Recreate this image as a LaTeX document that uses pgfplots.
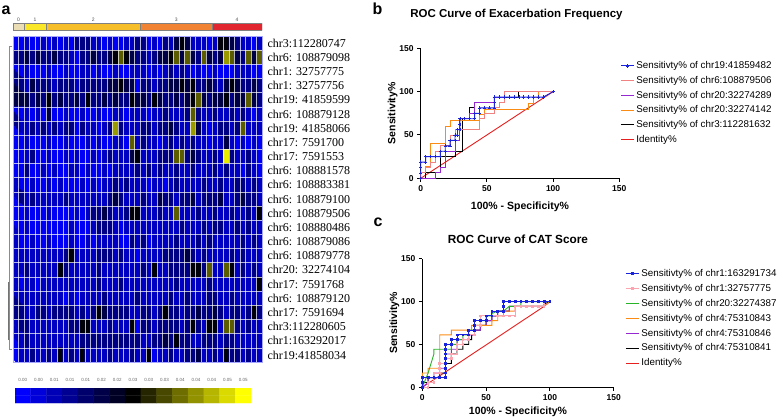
\documentclass[border=0pt]{standalone}
\usepackage{pgfplots}
\pgfplotsset{compat=1.18}
\usepackage{fontspec}
\setmainfont{Liberation Sans}
\newfontfamily\serifrm{Liberation Serif}
\definecolor{g0}{RGB}{236,222,180}
\definecolor{g1}{RGB}{250,232,40}
\definecolor{g2}{RGB}{246,190,40}
\definecolor{g3}{RGB}{240,132,52}
\definecolor{g4}{RGB}{226,38,48}
\definecolor{rocblue}{RGB}{25,35,220}
\definecolor{rocpink}{RGB}{240,130,130}
\definecolor{rocpinkc}{RGB}{250,165,175}
\definecolor{rocpurple}{RGB}{150,40,210}
\definecolor{rocorange}{RGB}{250,140,20}
\definecolor{rocgreen}{RGB}{40,180,40}
\definecolor{rocred}{RGB}{230,30,30}
\pgfplotsset{
  heatcm/.style={colormap={bky}{rgb255=(0,0,255) rgb255=(0,0,0) rgb255=(255,255,0)}, point meta min=0, point meta max=0.05},
  rocax/.style={scale only axis, xmin=0, xmax=150, ymin=0, ymax=150,
    axis x line*=bottom, axis y line*=left,
    axis line style={line width=1.1pt, black},
    xtick={0,50,100,150}, ytick={0,50,100,150},
    tick align=outside, major tick length=3.5pt,
    every tick/.style={black, line width=1pt},
    /pgf/number format/assume math mode=true,
    tick label style={font=\bfseries\fontsize{8.5}{10}\selectfont},
    xlabel={100\% - Specificity\%}, ylabel={Sensitivity\%},
    label style={font=\bfseries\fontsize{10.5}{12}\selectfont},
    ylabel shift=-5pt,
    clip=false, reverse legend,
    legend cell align=left,
    legend style={draw=none, fill=none, font=\fontsize{9.8}{11}\selectfont, anchor=north west},
    legend image code/.code={\draw[mark repeat=2,mark phase=2,##1] plot coordinates {(0pt,0pt) (6.5pt,0pt) (13pt,0pt)};},
  },
}
\begin{document}
\begin{tikzpicture}
\path[use as bounding box] (0pt,0pt) rectangle (778pt,-418pt);
% panel letters and titles
\node[font=\bfseries\fontsize{16}{16}\selectfont] at (6pt,-10pt) {a};
\node[font=\bfseries\fontsize{16}{16}\selectfont] at (377.5pt,-9pt) {b};
\node[font=\bfseries\fontsize{16}{16}\selectfont] at (378pt,-222pt) {c};
\node[font=\bfseries\fontsize{11.5}{13}\selectfont] at (516.5pt,-15pt) {ROC Curve of Exacerbation Frequency};
\node[font=\bfseries\fontsize{11.8}{13}\selectfont] at (518pt,-239pt) {ROC Curve of CAT Score};

% group bar
\begin{axis}[at={(13pt,-30pt)}, anchor=south west, scale only axis, width=249pt, height=6.7pt,
  xmin=-0.5, xmax=44.5, ymin=0, ymax=1, axis line style={draw=none},
  ytick=\empty, xtick={0.5,3.5,14,29,40}, xticklabels={0,1,2,3,4}, xticklabel pos=upper,
  major tick length=0pt, xticklabel style={font=\fontsize{5}{5}\selectfont, text=black!70, yshift=-2pt}]
\addplot[fill=g0, draw=black!50, line width=0.4pt, mark=none] coordinates {(-0.5,0) (1.5,0) (1.5,1) (-0.5,1) (-0.5,0)};
\addplot[fill=g1, draw=black!50, line width=0.4pt, mark=none] coordinates {(1.5,0) (5.5,0) (5.5,1) (1.5,1) (1.5,0)};
\addplot[fill=g2, draw=black!50, line width=0.4pt, mark=none] coordinates {(5.5,0) (22.5,0) (22.5,1) (5.5,1) (5.5,0)};
\addplot[fill=g3, draw=black!50, line width=0.4pt, mark=none] coordinates {(22.5,0) (35.5,0) (35.5,1) (22.5,1) (22.5,0)};
\addplot[fill=g4, draw=black!50, line width=0.4pt, mark=none] coordinates {(35.5,0) (44.5,0) (44.5,1) (35.5,1) (35.5,0)};
\end{axis}

% heatmap
\begin{axis}[heatcm, at={(13pt,-362pt)}, anchor=south west, scale only axis, width=249pt, height=326pt,
  xmin=-0.5, xmax=44.5, ymin=-0.5, ymax=22.5, y dir=reverse, axis on top, clip=true,
  xtick={0.5,1.5,...,43.5}, xticklabels={}, ytick={0,...,22},
  yticklabels={chr3:112280747, chr6: 108879098, chr1: 32757775, chr1: 32757756, chr19: 41859599, chr6: 108879128, chr19: 41858066, chr17: 7591700, chr17: 7591553, chr6: 108881578, chr6: 108883381, chr6: 108879100, chr6: 108879506, chr6: 108880486, chr6: 108879086, chr6: 108879778, chr20: 32274104, chr17: 7591768, chr6: 108879120, chr17: 7591694, chr3:112280605, chr1:163292017, chr19:41858034},
  yticklabel pos=right, yticklabel style={font=\serifrm\fontsize{12}{12}\selectfont, anchor=west, xshift=2pt},
  major tick length=0pt, minor tick length=0pt,
  minor ytick={0.5,1.5,...,21.5},
  xmajorgrids=true, yminorgrids=true, ymajorgrids=false,
  major grid style={white, line width=0.6pt, opacity=0.7},
  minor grid style={white, line width=0.6pt, opacity=0.7},
  axis line style={draw=white!65!blue, line width=0.6pt}]
\addplot[matrix plot*, mesh/cols=45, mesh/rows=23, point meta=explicit, skip coords between index={1035}{2000}] table[row sep=\\, header=false, x expr={mod(\coordindex,45)}, y expr={floor(\coordindex/45)}, meta index=0] {
0.001\\ 0.001\\ 0.006\\ 0.001\\ 0.001\\ 0.006\\ 0.001\\ 0.006\\ 0.001\\ 0.006\\ 0.001\\ 0.012\\ 0.012\\ 0.012\\ 0.006\\ 0.006\\ 0.001\\ 0.006\\ 0.001\\ 0.001\\ 0.006\\ 0.006\\ 0.012\\ 0.012\\ 0.001\\ 0.006\\ 0.001\\ 0.012\\ 0.006\\ 0.018\\ 0.024\\ 0.018\\ 0.006\\ 0.006\\ 0.006\\ 0.001\\ 0.006\\ 0.024\\ 0.024\\ 0.018\\ 0.012\\ 0.006\\ 0.006\\ 0.001\\ 0.006\\
0.012\\ 0.012\\ 0.018\\ 0.012\\ 0.018\\ 0.012\\ 0.012\\ 0.018\\ 0.012\\ 0.012\\ 0.006\\ 0.001\\ 0.012\\ 0.012\\ 0.018\\ 0.012\\ 0.012\\ 0.018\\ 0.024\\ 0.034\\ 0.024\\ 0.018\\ 0.012\\ 0.012\\ 0.006\\ 0.012\\ 0.018\\ 0.018\\ 0.024\\ 0.034\\ 0.018\\ 0.034\\ 0.018\\ 0.012\\ 0.034\\ 0.018\\ 0.012\\ 0.018\\ 0.040\\ 0.034\\ 0.018\\ 0.012\\ 0.034\\ 0.018\\ 0.034\\
0.001\\ 0.001\\ 0.006\\ 0.001\\ 0.001\\ 0.001\\ 0.006\\ 0.001\\ 0.001\\ 0.006\\ 0.001\\ 0.001\\ 0.006\\ 0.006\\ 0.001\\ 0.006\\ 0.001\\ 0.001\\ 0.006\\ 0.001\\ 0.001\\ 0.006\\ 0.006\\ 0.006\\ 0.001\\ 0.006\\ 0.001\\ 0.006\\ 0.012\\ 0.006\\ 0.012\\ 0.006\\ 0.001\\ 0.006\\ 0.001\\ 0.001\\ 0.006\\ 0.001\\ 0.001\\ 0.001\\ 0.006\\ 0.006\\ 0.006\\ 0.001\\ 0.001\\
0.012\\ 0.012\\ 0.006\\ 0.018\\ 0.012\\ 0.012\\ 0.012\\ 0.006\\ 0.012\\ 0.012\\ 0.012\\ 0.006\\ 0.012\\ 0.012\\ 0.012\\ 0.012\\ 0.012\\ 0.018\\ 0.018\\ 0.024\\ 0.018\\ 0.018\\ 0.001\\ 0.012\\ 0.012\\ 0.006\\ 0.012\\ 0.012\\ 0.018\\ 0.018\\ 0.024\\ 0.018\\ 0.024\\ 0.012\\ 0.012\\ 0.018\\ 0.012\\ 0.006\\ 0.018\\ 0.024\\ 0.018\\ 0.012\\ 0.012\\ 0.018\\ 0.012\\
0.018\\ 0.018\\ 0.018\\ 0.012\\ 0.018\\ 0.012\\ 0.024\\ 0.012\\ 0.018\\ 0.012\\ 0.012\\ 0.018\\ 0.012\\ 0.024\\ 0.012\\ 0.012\\ 0.018\\ 0.012\\ 0.018\\ 0.012\\ 0.012\\ 0.024\\ 0.018\\ 0.018\\ 0.012\\ 0.024\\ 0.018\\ 0.012\\ 0.012\\ 0.018\\ 0.012\\ 0.018\\ 0.024\\ 0.034\\ 0.018\\ 0.012\\ 0.018\\ 0.018\\ 0.024\\ 0.012\\ 0.018\\ 0.018\\ 0.034\\ 0.018\\ 0.012\\
0.001\\ 0.001\\ 0.006\\ 0.001\\ 0.006\\ 0.001\\ 0.018\\ 0.001\\ 0.001\\ 0.006\\ 0.001\\ 0.001\\ 0.006\\ 0.001\\ 0.001\\ 0.006\\ 0.001\\ 0.001\\ 0.006\\ 0.006\\ 0.001\\ 0.006\\ 0.006\\ 0.006\\ 0.001\\ 0.006\\ 0.006\\ 0.012\\ 0.006\\ 0.006\\ 0.006\\ 0.012\\ 0.034\\ 0.012\\ 0.006\\ 0.006\\ 0.012\\ 0.006\\ 0.006\\ 0.012\\ 0.006\\ 0.012\\ 0.006\\ 0.001\\ 0.006\\
0.012\\ 0.006\\ 0.006\\ 0.012\\ 0.006\\ 0.012\\ 0.006\\ 0.012\\ 0.006\\ 0.012\\ 0.012\\ 0.001\\ 0.012\\ 0.006\\ 0.006\\ 0.001\\ 0.006\\ 0.012\\ 0.040\\ 0.012\\ 0.006\\ 0.006\\ 0.006\\ 0.012\\ 0.012\\ 0.006\\ 0.012\\ 0.012\\ 0.018\\ 0.012\\ 0.006\\ 0.006\\ 0.040\\ 0.018\\ 0.006\\ 0.001\\ 0.006\\ 0.012\\ 0.012\\ 0.006\\ 0.012\\ 0.034\\ 0.006\\ 0.006\\ 0.006\\
0.001\\ 0.001\\ 0.006\\ 0.001\\ 0.001\\ 0.001\\ 0.006\\ 0.001\\ 0.001\\ 0.006\\ 0.001\\ 0.001\\ 0.001\\ 0.006\\ 0.001\\ 0.006\\ 0.001\\ 0.001\\ 0.006\\ 0.006\\ 0.001\\ 0.034\\ 0.006\\ 0.012\\ 0.006\\ 0.006\\ 0.001\\ 0.006\\ 0.012\\ 0.006\\ 0.012\\ 0.006\\ 0.012\\ 0.006\\ 0.006\\ 0.001\\ 0.006\\ 0.006\\ 0.018\\ 0.006\\ 0.001\\ 0.006\\ 0.001\\ 0.006\\ 0.001\\
0.001\\ 0.001\\ 0.006\\ 0.012\\ 0.001\\ 0.001\\ 0.006\\ 0.001\\ 0.001\\ 0.006\\ 0.001\\ 0.006\\ 0.001\\ 0.001\\ 0.006\\ 0.001\\ 0.006\\ 0.012\\ 0.006\\ 0.006\\ 0.006\\ 0.018\\ 0.024\\ 0.006\\ 0.006\\ 0.006\\ 0.012\\ 0.012\\ 0.012\\ 0.034\\ 0.034\\ 0.012\\ 0.018\\ 0.012\\ 0.006\\ 0.006\\ 0.012\\ 0.006\\ 0.048\\ 0.012\\ 0.006\\ 0.006\\ 0.012\\ 0.006\\ 0.001\\
0.001\\ 0.001\\ 0.012\\ 0.001\\ 0.001\\ 0.006\\ 0.001\\ 0.006\\ 0.001\\ 0.001\\ 0.006\\ 0.006\\ 0.001\\ 0.006\\ 0.001\\ 0.001\\ 0.006\\ 0.001\\ 0.006\\ 0.006\\ 0.006\\ 0.006\\ 0.012\\ 0.006\\ 0.012\\ 0.006\\ 0.012\\ 0.006\\ 0.006\\ 0.012\\ 0.006\\ 0.006\\ 0.012\\ 0.006\\ 0.006\\ 0.006\\ 0.012\\ 0.006\\ 0.012\\ 0.006\\ 0.006\\ 0.001\\ 0.012\\ 0.006\\ 0.001\\
0.006\\ 0.001\\ 0.001\\ 0.006\\ 0.001\\ 0.001\\ 0.006\\ 0.001\\ 0.006\\ 0.001\\ 0.001\\ 0.001\\ 0.006\\ 0.001\\ 0.006\\ 0.001\\ 0.006\\ 0.006\\ 0.012\\ 0.006\\ 0.012\\ 0.006\\ 0.006\\ 0.006\\ 0.001\\ 0.006\\ 0.006\\ 0.001\\ 0.006\\ 0.012\\ 0.006\\ 0.006\\ 0.006\\ 0.006\\ 0.012\\ 0.006\\ 0.006\\ 0.012\\ 0.006\\ 0.006\\ 0.012\\ 0.012\\ 0.006\\ 0.012\\ 0.006\\
0.006\\ 0.012\\ 0.006\\ 0.012\\ 0.006\\ 0.006\\ 0.006\\ 0.006\\ 0.006\\ 0.012\\ 0.006\\ 0.006\\ 0.006\\ 0.006\\ 0.006\\ 0.006\\ 0.006\\ 0.012\\ 0.018\\ 0.012\\ 0.006\\ 0.006\\ 0.006\\ 0.012\\ 0.006\\ 0.006\\ 0.018\\ 0.012\\ 0.012\\ 0.006\\ 0.012\\ 0.012\\ 0.018\\ 0.006\\ 0.012\\ 0.012\\ 0.012\\ 0.018\\ 0.006\\ 0.006\\ 0.012\\ 0.018\\ 0.012\\ 0.012\\ 0.006\\
0.001\\ 0.001\\ 0.006\\ 0.001\\ 0.001\\ 0.001\\ 0.006\\ 0.001\\ 0.001\\ 0.001\\ 0.001\\ 0.006\\ 0.001\\ 0.006\\ 0.012\\ 0.012\\ 0.018\\ 0.012\\ 0.006\\ 0.006\\ 0.012\\ 0.024\\ 0.024\\ 0.006\\ 0.006\\ 0.006\\ 0.012\\ 0.006\\ 0.006\\ 0.034\\ 0.006\\ 0.006\\ 0.006\\ 0.012\\ 0.006\\ 0.006\\ 0.012\\ 0.006\\ 0.006\\ 0.012\\ 0.006\\ 0.006\\ 0.012\\ 0.006\\ 0.024\\
0.001\\ 0.001\\ 0.006\\ 0.001\\ 0.001\\ 0.001\\ 0.001\\ 0.001\\ 0.001\\ 0.001\\ 0.006\\ 0.001\\ 0.001\\ 0.001\\ 0.006\\ 0.012\\ 0.012\\ 0.012\\ 0.006\\ 0.001\\ 0.006\\ 0.006\\ 0.006\\ 0.006\\ 0.006\\ 0.006\\ 0.006\\ 0.006\\ 0.006\\ 0.006\\ 0.012\\ 0.006\\ 0.006\\ 0.006\\ 0.012\\ 0.006\\ 0.012\\ 0.012\\ 0.006\\ 0.006\\ 0.012\\ 0.006\\ 0.012\\ 0.006\\ 0.006\\
0.006\\ 0.001\\ 0.001\\ 0.006\\ 0.001\\ 0.001\\ 0.006\\ 0.001\\ 0.001\\ 0.001\\ 0.006\\ 0.001\\ 0.001\\ 0.006\\ 0.001\\ 0.006\\ 0.006\\ 0.006\\ 0.006\\ 0.001\\ 0.001\\ 0.012\\ 0.006\\ 0.012\\ 0.001\\ 0.006\\ 0.006\\ 0.006\\ 0.006\\ 0.012\\ 0.006\\ 0.006\\ 0.006\\ 0.012\\ 0.006\\ 0.012\\ 0.006\\ 0.006\\ 0.006\\ 0.006\\ 0.006\\ 0.012\\ 0.006\\ 0.012\\ 0.006\\
0.006\\ 0.006\\ 0.006\\ 0.006\\ 0.006\\ 0.006\\ 0.006\\ 0.006\\ 0.006\\ 0.012\\ 0.024\\ 0.006\\ 0.006\\ 0.006\\ 0.006\\ 0.012\\ 0.012\\ 0.012\\ 0.006\\ 0.012\\ 0.006\\ 0.006\\ 0.001\\ 0.006\\ 0.006\\ 0.006\\ 0.006\\ 0.012\\ 0.012\\ 0.012\\ 0.012\\ 0.018\\ 0.012\\ 0.006\\ 0.012\\ 0.006\\ 0.006\\ 0.006\\ 0.006\\ 0.012\\ 0.006\\ 0.012\\ 0.006\\ 0.006\\ 0.006\\
0.006\\ 0.006\\ 0.012\\ 0.006\\ 0.006\\ 0.006\\ 0.006\\ 0.006\\ 0.024\\ 0.012\\ 0.006\\ 0.006\\ 0.006\\ 0.006\\ 0.006\\ 0.012\\ 0.006\\ 0.006\\ 0.006\\ 0.006\\ 0.006\\ 0.006\\ 0.006\\ 0.012\\ 0.006\\ 0.024\\ 0.006\\ 0.006\\ 0.012\\ 0.012\\ 0.012\\ 0.012\\ 0.024\\ 0.024\\ 0.012\\ 0.034\\ 0.006\\ 0.006\\ 0.034\\ 0.024\\ 0.006\\ 0.012\\ 0.006\\ 0.012\\ 0.006\\
0.006\\ 0.001\\ 0.006\\ 0.006\\ 0.001\\ 0.006\\ 0.006\\ 0.006\\ 0.006\\ 0.006\\ 0.006\\ 0.006\\ 0.006\\ 0.006\\ 0.006\\ 0.012\\ 0.006\\ 0.006\\ 0.006\\ 0.012\\ 0.006\\ 0.006\\ 0.006\\ 0.006\\ 0.006\\ 0.006\\ 0.006\\ 0.006\\ 0.006\\ 0.012\\ 0.006\\ 0.006\\ 0.006\\ 0.006\\ 0.006\\ 0.012\\ 0.006\\ 0.006\\ 0.006\\ 0.006\\ 0.006\\ 0.006\\ 0.006\\ 0.006\\ 0.024\\
0.006\\ 0.006\\ 0.006\\ 0.006\\ 0.006\\ 0.006\\ 0.006\\ 0.006\\ 0.006\\ 0.001\\ 0.006\\ 0.001\\ 0.006\\ 0.006\\ 0.006\\ 0.006\\ 0.012\\ 0.006\\ 0.006\\ 0.006\\ 0.006\\ 0.006\\ 0.012\\ 0.006\\ 0.006\\ 0.006\\ 0.006\\ 0.006\\ 0.012\\ 0.006\\ 0.006\\ 0.012\\ 0.006\\ 0.006\\ 0.006\\ 0.012\\ 0.012\\ 0.006\\ 0.006\\ 0.012\\ 0.006\\ 0.006\\ 0.006\\ 0.006\\ 0.006\\
0.012\\ 0.012\\ 0.006\\ 0.006\\ 0.012\\ 0.012\\ 0.006\\ 0.012\\ 0.012\\ 0.012\\ 0.012\\ 0.006\\ 0.012\\ 0.006\\ 0.012\\ 0.024\\ 0.018\\ 0.012\\ 0.012\\ 0.012\\ 0.012\\ 0.006\\ 0.006\\ 0.012\\ 0.012\\ 0.006\\ 0.012\\ 0.024\\ 0.012\\ 0.012\\ 0.006\\ 0.012\\ 0.012\\ 0.018\\ 0.012\\ 0.012\\ 0.018\\ 0.012\\ 0.006\\ 0.012\\ 0.012\\ 0.006\\ 0.012\\ 0.024\\ 0.012\\
0.006\\ 0.012\\ 0.012\\ 0.006\\ 0.006\\ 0.006\\ 0.006\\ 0.006\\ 0.006\\ 0.006\\ 0.012\\ 0.012\\ 0.024\\ 0.024\\ 0.006\\ 0.006\\ 0.006\\ 0.012\\ 0.006\\ 0.006\\ 0.006\\ 0.024\\ 0.001\\ 0.012\\ 0.012\\ 0.006\\ 0.012\\ 0.012\\ 0.012\\ 0.012\\ 0.006\\ 0.012\\ 0.024\\ 0.012\\ 0.006\\ 0.024\\ 0.024\\ 0.006\\ 0.034\\ 0.034\\ 0.012\\ 0.006\\ 0.012\\ 0.006\\ 0.006\\
0.006\\ 0.006\\ 0.012\\ 0.006\\ 0.006\\ 0.006\\ 0.006\\ 0.006\\ 0.006\\ 0.006\\ 0.006\\ 0.006\\ 0.012\\ 0.012\\ 0.012\\ 0.012\\ 0.012\\ 0.012\\ 0.012\\ 0.012\\ 0.012\\ 0.012\\ 0.012\\ 0.006\\ 0.006\\ 0.012\\ 0.012\\ 0.018\\ 0.012\\ 0.024\\ 0.012\\ 0.012\\ 0.006\\ 0.006\\ 0.012\\ 0.012\\ 0.012\\ 0.006\\ 0.012\\ 0.012\\ 0.006\\ 0.006\\ 0.006\\ 0.006\\ 0.006\\
0.001\\ 0.006\\ 0.006\\ 0.012\\ 0.006\\ 0.006\\ 0.012\\ 0.006\\ 0.024\\ 0.006\\ 0.012\\ 0.006\\ 0.024\\ 0.006\\ 0.006\\ 0.006\\ 0.006\\ 0.012\\ 0.006\\ 0.006\\ 0.006\\ 0.012\\ 0.006\\ 0.006\\ 0.024\\ 0.001\\ 0.006\\ 0.006\\ 0.012\\ 0.006\\ 0.006\\ 0.012\\ 0.012\\ 0.018\\ 0.006\\ 0.006\\ 0.012\\ 0.006\\ 0.024\\ 0.012\\ 0.012\\ 0.006\\ 0.012\\ 0.006\\ 0.006\\};
\end{axis}

% dendrogram (separate overlay, same coordinates)
\begin{axis}[at={(13pt,-362pt)}, anchor=south west, scale only axis, width=249pt, height=326pt,
  xmin=-0.5, xmax=44.5, ymin=-0.5, ymax=22.5, y dir=reverse, hide axis, clip=false]
\addplot[black!45, line width=0.6pt, mark=none] coordinates {(-0.6,0.25) (-1.17,0.25) (-1.17,21.6) (-0.6,21.6)};
\addplot[black!55, line width=0.6pt, mark=none] coordinates {(-1.17,16.9) (-1.4,16.9) (-1.4,20.9) (-1.17,20.9)};
\end{axis}

% colour key
\begin{axis}[heatcm, at={(15pt,-403pt)}, anchor=south west, scale only axis, width=236pt, height=15pt,
  xmin=-0.5, xmax=14.5, ymin=-0.5, ymax=1.5, ytick=\empty, xtick={0,...,14},
  xticklabels={0.00,0.00,0.01,0.01,0.01,0.02,0.02,0.03,0.03,0.03,0.04,0.04,0.04,0.05,0.05},
  xticklabel pos=upper, major tick length=0pt, axis line style={draw=none},
  xticklabel style={font=\fontsize{4.5}{5}\selectfont, text=black!60, yshift=3pt}]
\addplot[matrix plot*, mesh/cols=15, point meta=explicit] table[meta=c] {
x y c
0 0 0.0000
1 0 0.0036
2 0 0.0071
3 0 0.0107
4 0 0.0143
5 0 0.0179
6 0 0.0214
7 0 0.0250
8 0 0.0286
9 0 0.0321
10 0 0.0357
11 0 0.0393
12 0 0.0429
13 0 0.0464
14 0 0.0500
0 1 0.0000
1 1 0.0036
2 1 0.0071
3 1 0.0107
4 1 0.0143
5 1 0.0179
6 1 0.0214
7 1 0.0250
8 1 0.0286
9 1 0.0321
10 1 0.0357
11 1 0.0393
12 1 0.0429
13 1 0.0464
14 1 0.0500
};
\end{axis}

% ROC b
\begin{axis}[rocax, at={(420.7pt,-178.3pt)}, anchor=south west, width=198.6pt, height=130pt,
  xlabel style={yshift=-4pt},
  legend style={at={(0.99,0.93)}, row sep=2.1pt}]
\addplot[rocred, line width=0.9pt, mark=none] coordinates {(0,0) (100,100)};
\addlegendentry{Identity\%}
\addplot[black, line width=0.9pt, mark=none] coordinates {(0,0) (3.7,0) (3.7,6.25) (14.8,6.25) (14.8,25) (25.9,25) (25.9,31.25) (31.5,31.25) (31.5,68.75) (37,68.75) (37,81.25) (40.7,81.25) (40.7,87.5) (55.6,87.5) (55.6,93.75) (74.1,93.75) (74.1,100) (100,100)};
\addlegendentry{Sensitivty\% of chr3:112281632}
\addplot[rocorange, line width=0.9pt, mark=none] coordinates {(0,0) (0,6.67) (3.7,6.67) (3.7,13.33) (7.4,13.33) (7.4,40) (18.5,40) (18.5,60) (22.2,60) (22.2,66.67) (44.4,66.67) (44.4,73.33) (48.1,73.33) (48.1,80) (81.5,80) (81.5,86.67) (85.2,86.67) (85.2,93.33) (88.9,93.33) (88.9,100) (100,100)};
\addlegendentry{Sensitivty\% of chr20:32274142}
\addplot[rocpurple, line width=0.9pt, mark=none] coordinates {(0,0) (11.1,0) (11.1,6.25) (14.8,6.25) (14.8,12.5) (18.5,12.5) (18.5,31.25) (25.9,31.25) (25.9,43.75) (29.6,43.75) (29.6,68.75) (37,68.75) (37,75) (40.7,75) (40.7,87.5) (55.6,87.5) (55.6,93.75) (63,93.75) (63,100) (100,100)};
\addlegendentry{Sensitivty\% of chr20:32274289}
\addplot[rocpink, line width=0.9pt, mark=none] coordinates {(0,0) (0,6.25) (3.7,6.25) (3.7,12.5) (7.4,12.5) (7.4,18.75) (11.1,18.75) (11.1,31.25) (14.8,31.25) (14.8,37.5) (22.2,37.5) (22.2,50) (25.9,50) (25.9,56.25) (44.4,56.25) (44.4,68.75) (48.1,68.75) (48.1,75) (55.6,75) (55.6,81.25) (59.3,81.25) (59.3,87.5) (63,87.5) (63,100) (100,100)};
\addlegendentry{Sensitivty\% of chr6:108879506}
\addplot[rocblue, line width=0.9pt, mark=+, mark size=1.6pt, mark options={line width=0.6pt}] coordinates {(0,0) (0,6.25) (0,12.5) (0,18.75) (3.7,18.75) (3.7,25) (7.4,25) (11.1,25) (14.8,25) (14.8,31.25) (18.5,31.25) (18.5,37.5) (22.2,37.5) (22.2,43.75) (25.9,43.75) (25.9,50) (27.8,50) (27.8,56.25) (29.6,56.25) (29.6,62.5) (29.6,68.75) (33.3,68.75) (37,68.75) (40.7,68.75) (40.7,75) (44.4,75) (44.4,81.25) (48.1,81.25) (51.9,81.25) (55.6,81.25) (55.6,87.5) (55.6,93.75) (59.3,93.75) (63,93.75) (66.7,93.75) (70.4,93.75) (74.1,93.75) (77.8,93.75) (81.5,93.75) (85.2,93.75) (88.9,93.75) (92.6,93.75) (100,100)};
\addlegendentry{Sensitivty\% of chr19:41859482}
\end{axis}

% ROC c
\begin{axis}[rocax, at={(422.3pt,-387.3pt)}, anchor=south west, width=191.4pt, height=128.6pt,
  legend style={at={(1.045,0.95)}, row sep=2.3pt}]
\addplot[rocred, line width=0.9pt, mark=none] coordinates {(0,0) (95.45,94.44)};
\addlegendentry{Identity\%}
\addplot[black, line width=0.9pt, mark=none] coordinates {(0,0) (0,5.56) (4.55,5.56) (4.55,11.11) (13.64,11.11) (13.64,16.67) (18.18,16.67) (18.18,27.78) (22.73,27.78) (22.73,38.89) (27.27,38.89) (27.27,44.44) (31.82,44.44) (31.82,50) (36.36,50) (36.36,55.56) (38.64,55.56) (38.64,61.11) (40.91,61.11) (40.91,66.67) (45.45,66.67) (45.45,72.22) (50,72.22) (50,77.78) (54.55,77.78) (54.55,83.33) (59.09,83.33) (59.09,88.89) (68.18,88.89) (68.18,94.44) (95.45,94.44) (95.45,97.22) (100,100)};
\addlegendentry{Sensitivty\% of chr4:75310841}
\addplot[rocpurple, line width=0.9pt, mark=none] coordinates {(0,0) (4.55,5.56) (4.55,11.11) (9.09,11.11) (9.09,16.67) (13.64,16.67) (13.64,22.22) (18.18,22.22) (18.18,38.89) (22.73,38.89) (22.73,44.44) (27.27,44.44) (27.27,55.56) (36.36,55.56) (36.36,61.11) (40.91,61.11) (40.91,66.67) (45.45,66.67) (45.45,72.22) (50,72.22) (50,77.78) (54.55,77.78) (54.55,83.33) (59.09,83.33) (59.09,88.89) (68.18,88.89) (68.18,94.44) (95.45,94.44) (100,100)};
\addlegendentry{Sensitivty\% of chr4:75310846}
\addplot[rocorange, line width=0.9pt, mark=none] coordinates {(0,0) (0,16.67) (4.55,16.67) (4.55,22.22) (13.64,22.22) (13.64,61.11) (22.73,61.11) (22.73,66.67) (38.64,66.67) (38.64,72.22) (54.55,72.22) (54.55,77.78) (59.09,77.78) (59.09,83.33) (63.64,83.33) (63.64,88.89) (72.73,88.89) (72.73,94.44) (95.45,94.44) (100,100)};
\addlegendentry{Sensitivty\% of chr4:75310843}
\addplot[rocgreen, line width=0.9pt, mark=none] coordinates {(0,0) (4.55,16.67) (6.82,27.78) (9.09,38.89) (9.09,44.44) (22.73,44.44) (22.73,50) (27.27,50) (27.27,55.56) (31.82,55.56) (31.82,61.11) (36.36,61.11) (36.36,66.67) (40.91,66.67) (40.91,72.22) (45.45,72.22) (45.45,77.78) (50,77.78) (50,83.33) (54.55,83.33) (54.55,86.11) (59.09,88.89) (63.64,88.89) (68.18,94.44) (77.27,94.44) (77.27,100) (100,100)};
\addlegendentry{Sensitivty\% of chr20:32274387}
\addplot[rocpinkc, line width=0.9pt, mark=square*, mark size=0.8pt] coordinates {(0,0) (4.55,0) (4.55,5.56) (9.09,5.56) (9.09,11.11) (9.09,16.67) (13.64,16.67) (13.64,22.22) (13.64,27.78) (18.18,27.78) (18.18,33.33) (22.73,33.33) (22.73,38.89) (27.27,38.89) (27.27,44.44) (27.27,50) (31.82,50) (31.82,55.56) (36.36,55.56) (36.36,61.11) (40.91,61.11) (40.91,66.67) (40.91,72.22) (45.45,72.22) (45.45,77.78) (45.45,83.33) (50,83.33) (54.55,83.33) (59.09,83.33) (63.64,83.33) (68.18,83.33) (72.73,83.33) (72.73,88.89) (72.73,94.44) (77.27,94.44) (81.82,94.44) (86.36,94.44) (90.91,94.44) (95.45,94.44) (95.45,100) (100,100)};
\addlegendentry{Sensitivty\% of chr1:32757775}
\addplot[rocblue, line width=0.9pt, mark=square*, mark size=0.9pt] coordinates {(0,0) (0,5.56) (0,11.11) (4.55,11.11) (9.09,11.11) (13.64,11.11) (18.18,11.11) (18.18,16.67) (18.18,22.22) (18.18,27.78) (18.18,33.33) (18.18,38.89) (18.18,44.44) (18.18,50) (22.73,50) (22.73,55.56) (27.27,55.56) (27.27,61.11) (31.82,61.11) (36.36,61.11) (36.36,66.67) (40.91,66.67) (40.91,72.22) (40.91,77.78) (45.45,77.78) (50,77.78) (50,83.33) (54.55,83.33) (54.55,88.89) (59.09,88.89) (63.64,88.89) (63.64,94.44) (63.64,100) (68.18,100) (72.73,100) (77.27,100) (81.82,100) (86.36,100) (90.91,100) (95.45,100) (100,100)};
\addlegendentry{Sensitivty\% of chr1:163291734}
\end{axis}
\end{tikzpicture}
\end{document}
